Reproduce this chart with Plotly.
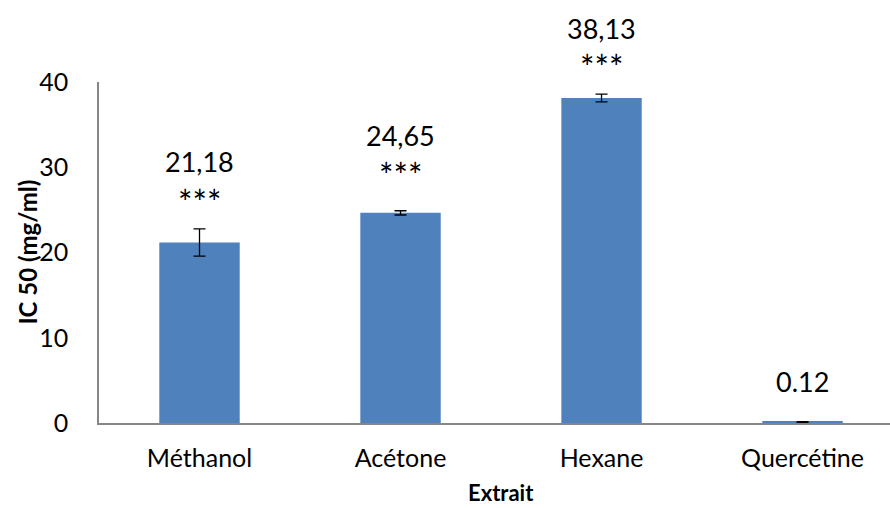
import plotly.graph_objects as go

categories = ["Méthanol", "Acétone", "Hexane", "Quercétine"]
ic50 = [21.18, 24.65, 38.13, 0.12]
errors = [1.6, 0.25, 0.45, 0.05]
value_labels = ["21,18", "24,65", "38,13", "0.12"]
stars = ["***", "***", "***", ""]
label_y = [30.65, 33.78, 46.3, 4.85]
star_y = [26.0, 29.15, 41.8, None]

BAR = "#4F81BD"
AXIS = "#868686"
FONT = "Lato"
YMAX = 40

fig = go.Figure()
fig.add_trace(go.Bar(
    x=categories, y=ic50, width=0.4,
    marker=dict(color=BAR, line=dict(width=0)),
    error_y=dict(type="data", array=errors, visible=True,
                 color="black", thickness=1.3, width=6),
))

for c, t, y in zip(categories, value_labels, label_y):
    fig.add_annotation(x=c, yref="paper", y=y / YMAX, text=t, showarrow=False,
                       font=dict(family=FONT, size=27, color="black"),
                       xanchor="center", yanchor="middle")
for c, t, y in zip(categories, stars, star_y):
    if t:
        fig.add_annotation(x=c, yref="paper", y=y / YMAX, text=t, showarrow=False,
                           font=dict(family=FONT, size=34, color="black"),
                           xanchor="center", yanchor="middle")

fig.add_annotation(xref="paper", yref="paper", x=(501 - 99) / 791, y=-69 / 341,
                   text="<b>Extrait</b>", showarrow=False, borderpad=0,
                   font=dict(family=FONT, size=22, color="black"),
                   xanchor="center", yanchor="middle")
fig.add_annotation(xref="paper", yref="paper", x=-72 / 791, y=0.5,
                   text="<b>IC 50 (mg/ml)</b>", showarrow=False, textangle=-90,
                   font=dict(family=FONT, size=24, color="black"),
                   xanchor="center", yanchor="middle")

fig.update_layout(
    width=890, height=508,
    margin=dict(l=99, r=0, t=82, b=85, autoexpand=False),
    paper_bgcolor="white", plot_bgcolor="white",
    showlegend=False,
    font=dict(family=FONT, size=25, color="black"),
    xaxis=dict(range=[-0.5, 3.435], showline=True, linecolor=AXIS, linewidth=1.5,
               ticks="", showgrid=False, zeroline=False, automargin=False,
               tickfont=dict(family=FONT, size=25, color="black"),
               ticklabelstandoff=12),
    yaxis=dict(range=[0, YMAX], showline=True, linecolor=AXIS, linewidth=1.5,
               ticks="", showgrid=False, zeroline=False, dtick=10, automargin=False,
               tickfont=dict(family=FONT, size=25, color="black"),
               ticklabelstandoff=24),
)
fig.update_traces(cliponaxis=False)
fig.write_html("out.html",
               config={"displayModeBar": False},
               post_script="document.body.style.margin='0';document.body.style.overflow='hidden';")
